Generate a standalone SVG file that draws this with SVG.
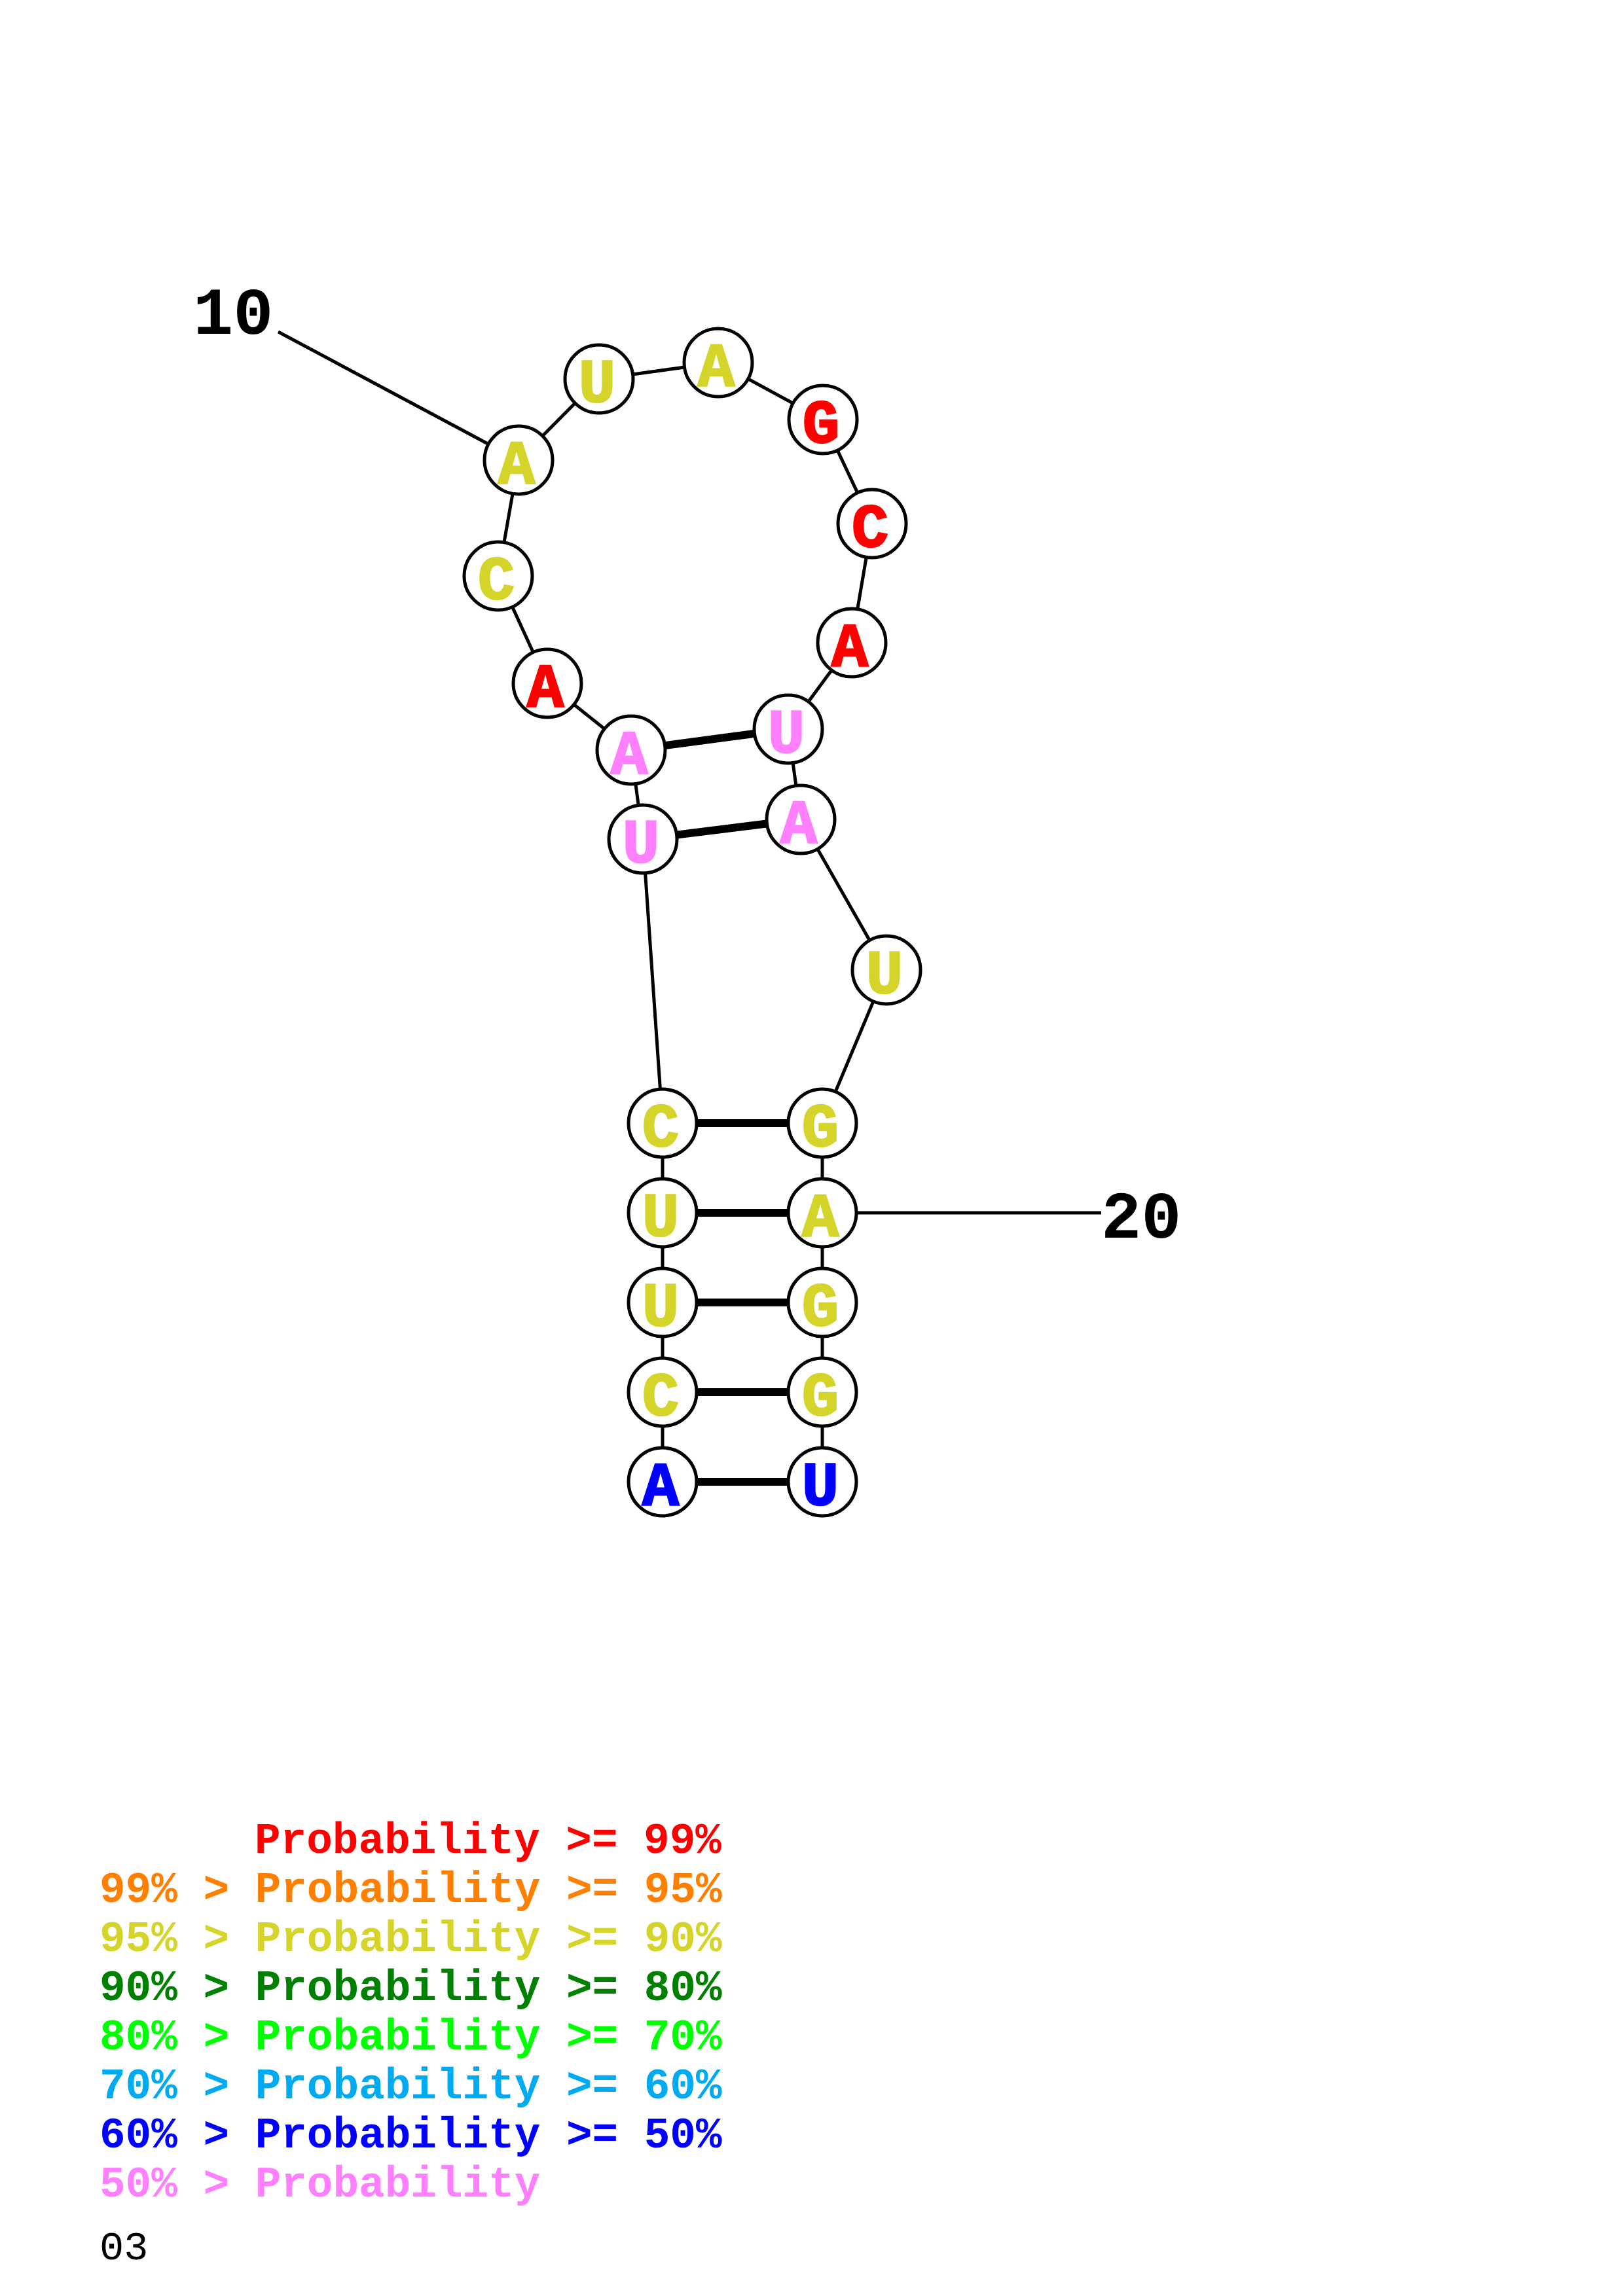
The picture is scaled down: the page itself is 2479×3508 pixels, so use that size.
<svg xmlns="http://www.w3.org/2000/svg" width="2479" height="3508" viewBox="0 0 2479 3508">
<style>
.bb{stroke:#000;stroke-width:5;fill:none}
.bp{stroke:#000;stroke-width:12;fill:none}
.nd circle{fill:#fff;stroke:#000;stroke-width:5}
.nd text{font-family:"Liberation Mono","Courier New",monospace;font-weight:bold;font-size:94px;text-anchor:middle;stroke-width:2.5;paint-order:stroke}
.num{font-family:"Liberation Mono","Courier New",monospace;font-weight:bold;font-size:102px;fill:#000}
.lg{font-family:"Liberation Mono","Courier New",monospace;font-weight:bold;font-size:66px}
.r{fill:#ff0000;stroke:#ff0000}.o{fill:#ff8000}.y{fill:#d4d42b;stroke:#d4d42b}.dg{fill:#008000}.g{fill:#00ff00}.lb{fill:#00aaf0}.b{fill:#0000ff;stroke:#0000ff}.p{fill:#ff80ff;stroke:#ff80ff}
.lg text{stroke:none}
</style>
<rect width="2479" height="3508" fill="#fff"/>
<g id="connectors">
<line class="bb" x1="425" y1="507" x2="792" y2="703"/>
<line class="bb" x1="1256" y1="1853" x2="1682" y2="1853"/>
<polyline class="bb" points="1012,2264 1012,2127 1012,1990 1012,1853 1012,1716 982,1282 964,1146 836,1044 761,880 792,703 915,579 1097,554 1257,641 1332,800 1301,982 1204,1114 1223,1252 1354,1482 1256,1716 1256,1853 1256,1990 1256,2127 1256,2264"/>
<line class="bp" x1="1012" y1="2264" x2="1256" y2="2264"/>
<line class="bp" x1="1012" y1="2127" x2="1256" y2="2127"/>
<line class="bp" x1="1012" y1="1990" x2="1256" y2="1990"/>
<line class="bp" x1="1012" y1="1853" x2="1256" y2="1853"/>
<line class="bp" x1="1012" y1="1716" x2="1256" y2="1716"/>
<line class="bp" x1="982" y1="1282" x2="1223" y2="1252"/>
<line class="bp" x1="964" y1="1146" x2="1204" y2="1114"/>
</g>
<g id="n1" class="nd"><circle cx="1012" cy="2264" r="52"/><text x="1009" y="2299" class="b">A</text></g>
<g id="n2" class="nd"><circle cx="1012" cy="2127" r="52"/><text x="1009" y="2162" class="y">C</text></g>
<g id="n3" class="nd"><circle cx="1012" cy="1990" r="52"/><text x="1009" y="2025" class="y">U</text></g>
<g id="n4" class="nd"><circle cx="1012" cy="1853" r="52"/><text x="1009" y="1888" class="y">U</text></g>
<g id="n5" class="nd"><circle cx="1012" cy="1716" r="52"/><text x="1009" y="1751" class="y">C</text></g>
<g id="n6" class="nd"><circle cx="982" cy="1282" r="52"/><text x="979" y="1317" class="p">U</text></g>
<g id="n7" class="nd"><circle cx="964" cy="1146" r="52"/><text x="961" y="1181" class="p">A</text></g>
<g id="n8" class="nd"><circle cx="836" cy="1044" r="52"/><text x="833" y="1079" class="r">A</text></g>
<g id="n9" class="nd"><circle cx="761" cy="880" r="52"/><text x="758" y="915" class="y">C</text></g>
<g id="n10" class="nd"><circle cx="792" cy="703" r="52"/><text x="789" y="738" class="y">A</text></g>
<g id="n11" class="nd"><circle cx="915" cy="579" r="52"/><text x="912" y="614" class="y">U</text></g>
<g id="n12" class="nd"><circle cx="1097" cy="554" r="52"/><text x="1094" y="589" class="y">A</text></g>
<g id="n13" class="nd"><circle cx="1257" cy="641" r="52"/><text x="1254" y="676" class="r">G</text></g>
<g id="n14" class="nd"><circle cx="1332" cy="800" r="52"/><text x="1329" y="835" class="r">C</text></g>
<g id="n15" class="nd"><circle cx="1301" cy="982" r="52"/><text x="1298" y="1017" class="r">A</text></g>
<g id="n16" class="nd"><circle cx="1204" cy="1114" r="52"/><text x="1201" y="1149" class="p">U</text></g>
<g id="n17" class="nd"><circle cx="1223" cy="1252" r="52"/><text x="1220" y="1287" class="p">A</text></g>
<g id="n18" class="nd"><circle cx="1354" cy="1482" r="52"/><text x="1351" y="1517" class="y">U</text></g>
<g id="n19" class="nd"><circle cx="1256" cy="1716" r="52"/><text x="1253" y="1751" class="y">G</text></g>
<g id="n20" class="nd"><circle cx="1256" cy="1853" r="52"/><text x="1253" y="1888" class="y">A</text></g>
<g id="n21" class="nd"><circle cx="1256" cy="1990" r="52"/><text x="1253" y="2025" class="y">G</text></g>
<g id="n22" class="nd"><circle cx="1256" cy="2127" r="52"/><text x="1253" y="2162" class="y">G</text></g>
<g id="n23" class="nd"><circle cx="1256" cy="2264" r="52"/><text x="1253" y="2299" class="b">U</text></g>
<g id="labels">
<text class="num" x="295" y="510">10</text>
<text class="num" x="1682" y="1891">20</text>
</g>
<g id="legend" class="lg">
<text x="389" y="2831" class="r">Probability &gt;= 99%</text>
<text x="152" y="2906" class="o">99% &gt; Probability &gt;= 95%</text>
<text x="152" y="2981" class="y">95% &gt; Probability &gt;= 90%</text>
<text x="152" y="3056" class="dg">90% &gt; Probability &gt;= 80%</text>
<text x="152" y="3131" class="g">80% &gt; Probability &gt;= 70%</text>
<text x="152" y="3206" class="lb">70% &gt; Probability &gt;= 60%</text>
<text x="152" y="3281" class="b">60% &gt; Probability &gt;= 50%</text>
<text x="152" y="3356" class="p">50% &gt; Probability</text>
<text x="152" y="3452" style="font-weight:normal;font-size:62px" fill="#000">03</text>
</g>
</svg>
